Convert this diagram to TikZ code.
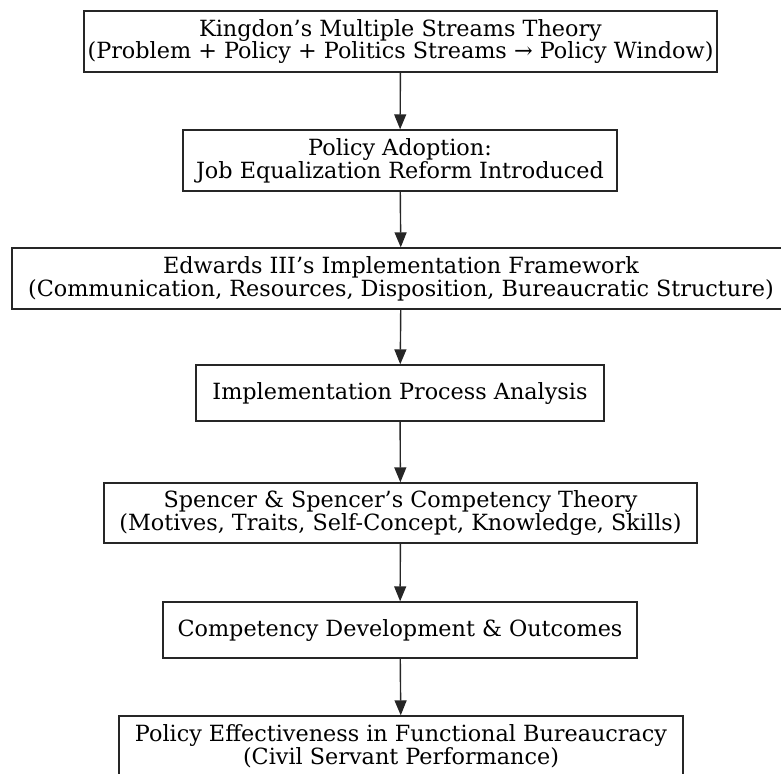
\documentclass[tikz,border=0pt]{standalone}
\usepackage{fontspec}
\setmainfont{DejaVu Serif}
\usetikzlibrary{positioning, arrows.meta}

\begin{document}
\begin{tikzpicture}[
    >={Triangle[length=3mm, width=2.4mm]},
    box/.style={draw=black!85, line width=0.8pt, align=center, inner sep=2pt, minimum height=1.22cm, font=\fontsize{12.7}{13}\selectfont},
    flow/.style={->, draw=black!85, line width=0.8pt}
]
\useasboundingbox (0,0) rectangle (15.62,-15.46);

% ================= Nodes =================

% Agenda setting
\node[box, minimum width=12.14cm] (kingdon) at (8.01, -0.83) {Kingdon’s Multiple Streams Theory \\ (Problem + Policy + Politics Streams → Policy Window)};
\node[box, minimum width=8.68cm] (adoption) at (8.00, -3.21) {Policy Adoption: \\ Job Equalization Reform Introduced};

% Implementation
\node[box, minimum width=15.56cm] (edwards) at (8.02, -5.57) {Edwards III’s Implementation Framework \\ (Communication, Resources, Disposition, Bureaucratic Structure)};
\node[box, minimum width=8.16cm, minimum height=1.12cm] (process) at (8.00, -7.86) {Implementation Process Analysis};

% Competency
\node[box, minimum width=11.86cm, minimum height=1.2cm] (spencer) at (8.01, -10.26) {Spencer \& Spencer’s Competency Theory \\ (Motives, Traits, Self-Concept, Knowledge, Skills)};
\node[box, minimum width=9.48cm, minimum height=1.12cm] (outcomes) at (8.00, -12.60) {Competency Development \& Outcomes};

% Result
\node[box, minimum width=11.28cm, minimum height=1.2cm] (effect) at (8.02, -14.92) {Policy Effectiveness in Functional Bureaucracy \\ (Civil Servant Performance)};

% ================= Edges =================

\draw[flow] (kingdon) -- (adoption);
\draw[flow] (adoption) -- (edwards);
\draw[flow] (edwards) -- (process);
\draw[flow] (process) -- (spencer);
\draw[flow] (spencer) -- (outcomes);
\draw[flow] (outcomes) -- (effect);

\end{tikzpicture}
\end{document}
